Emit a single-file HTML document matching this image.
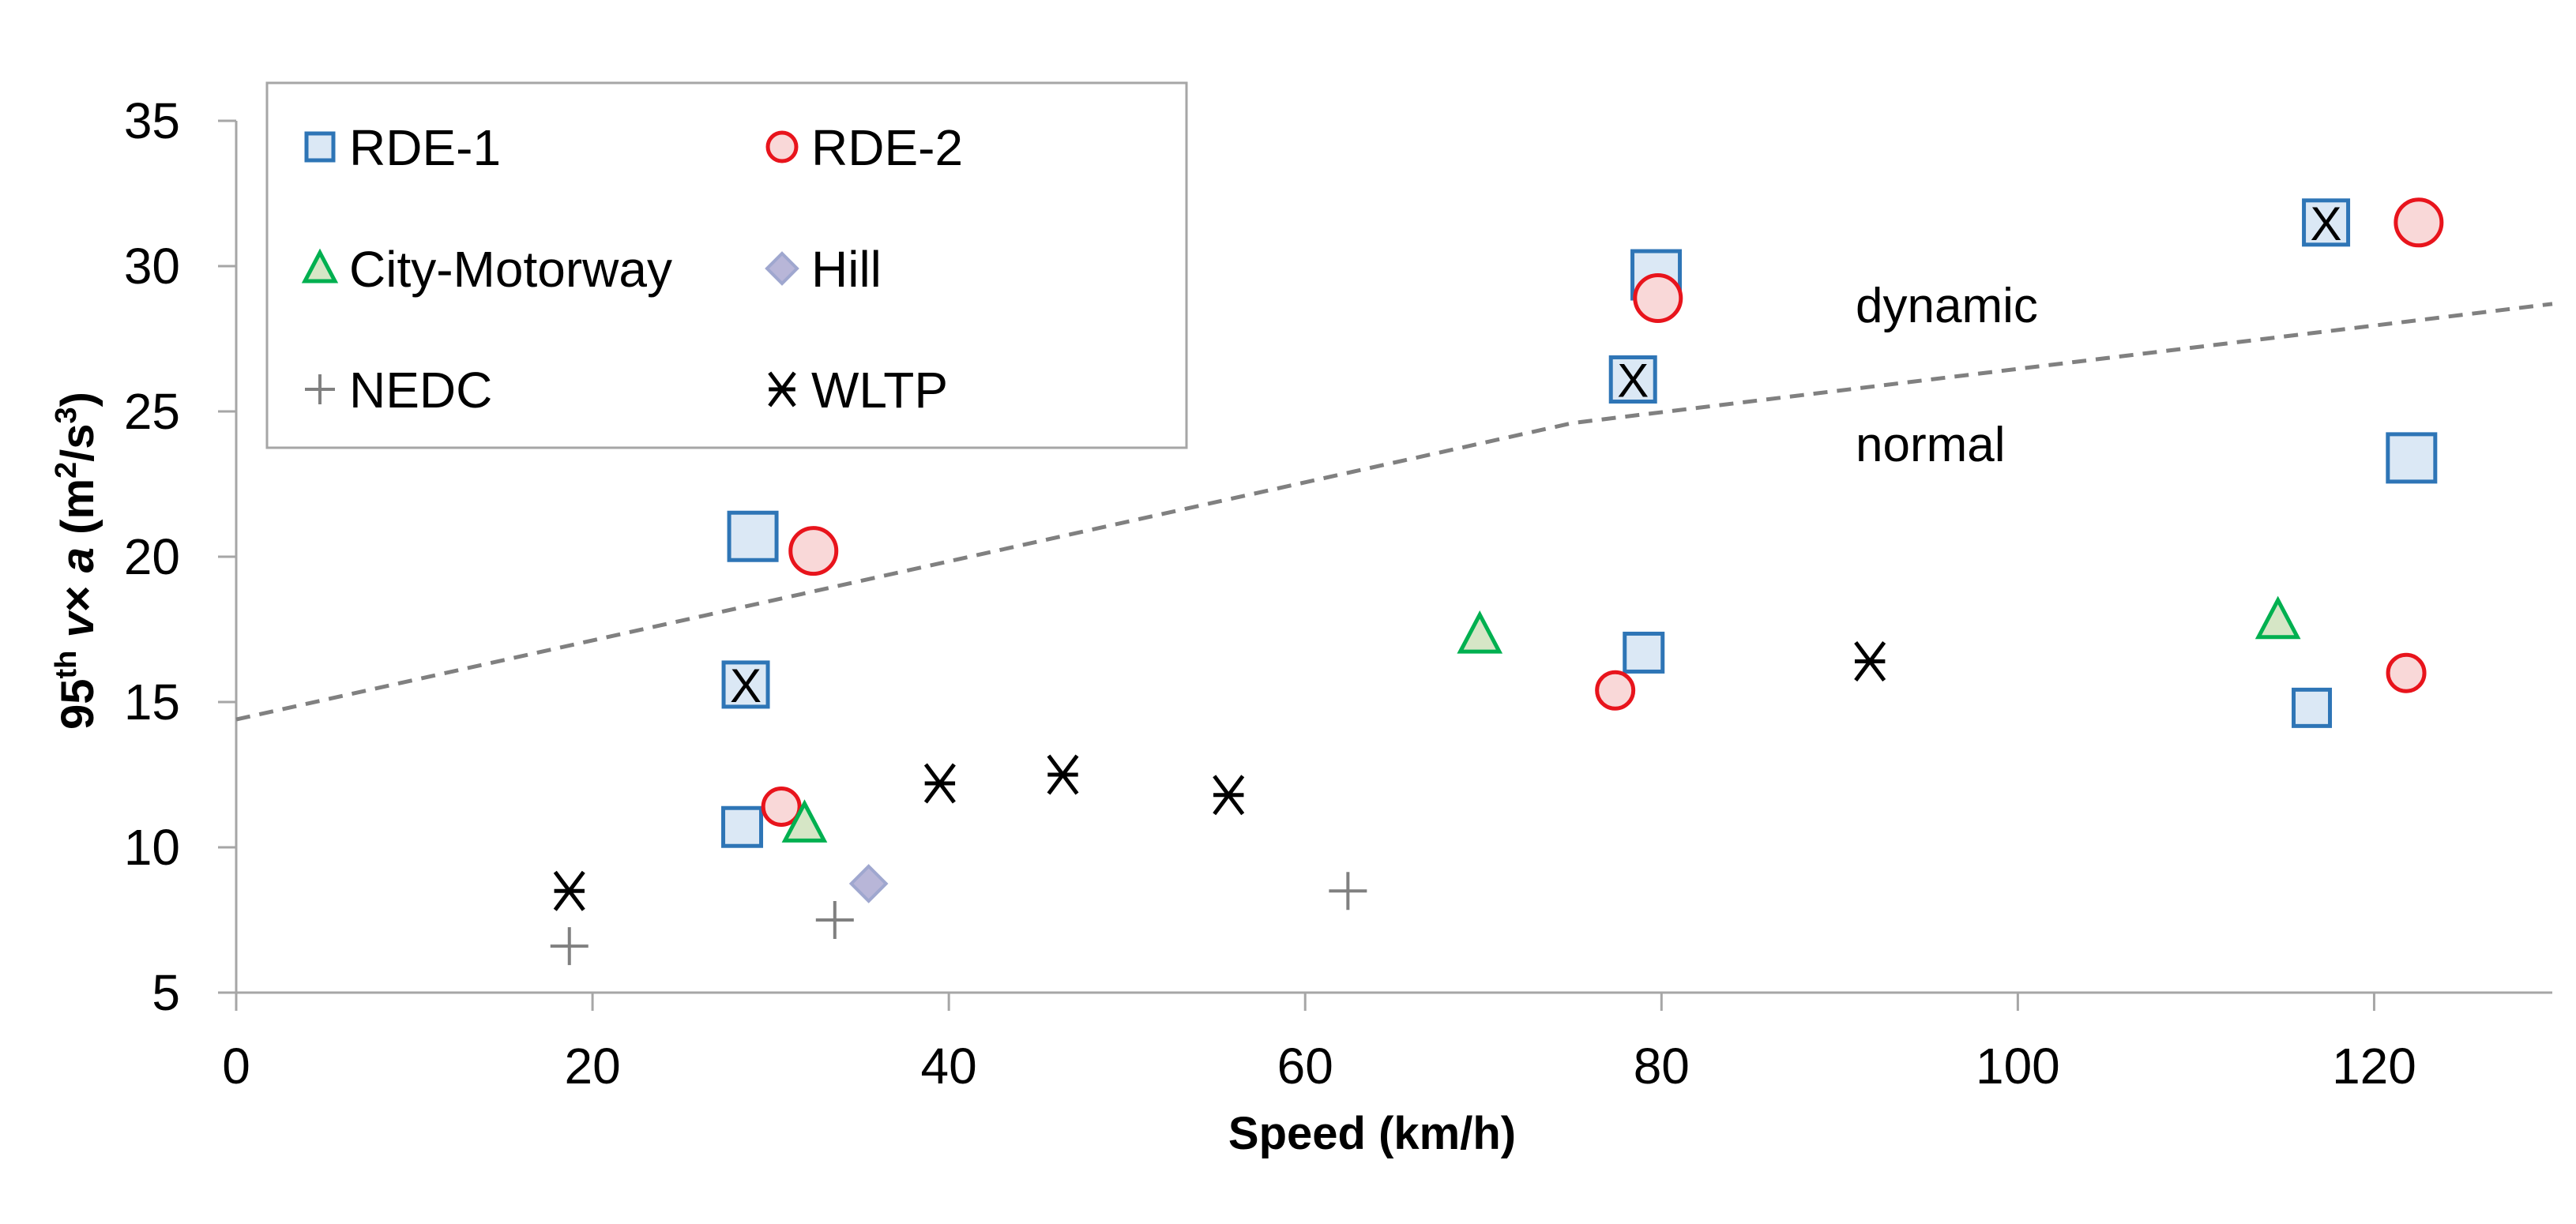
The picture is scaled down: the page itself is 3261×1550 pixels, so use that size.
<!DOCTYPE html>
<html><head><meta charset="utf-8"><style>
html,body{margin:0;padding:0;background:#fff;}
svg{display:block;font-family:"Liberation Sans",sans-serif;}
</style></head><body>
<svg id="chart" width="3261" height="1550" viewBox="0 0 3261 1550" xmlns="http://www.w3.org/2000/svg">
<rect width="3261" height="1550" fill="#fff"/>
<g id="axes"></g>
<g id="marks"></g>
<g id="legend"></g>
</svg>
<script>
const xTicks=[0,20,40,60,80,100,120];
const yTicks=[5,10,15,20,25,30,35];
const thresholdX=[0,75,130];
const thresholdY=[14.4,24.6,28.7];
const rde1X=[29.0,28.6,28.4,79.7,78.4,79.0,117.3,122.1,116.5];
const rde1Y=[20.7,15.6,10.7,29.7,26.1,16.7,31.5,23.4,14.8];
const rde1Size=[30,28,24,30,28,24,28,30,23];
const rde1Marked=[0,1,0,0,1,0,1,0,0];
const rde2X=[32.4,30.6,79.8,77.4,122.5,121.8];
const rde2Y=[20.2,11.4,28.9,15.4,31.5,16.0];
const rde2Size=[29,23,29,23,29,23];
const cityX=[31.9,69.8,114.6];
const cityY=[10.8,17.3,17.8];
const hillX=[35.5];
const hillY=[8.75];
const nedcX=[18.7,33.6,62.4];
const nedcY=[6.6,7.5,8.5];
const wltpX=[18.7,39.5,46.4,55.7,91.7];
const wltpY=[8.5,12.2,12.5,11.8,16.4];

const X0=299,X1=3231,XMAX=130,Y0=1257,Y1=153,YMIN=5,YMAX=35;
const sx=v=>X0+(v/XMAX)*(X1-X0);
const sy=v=>Y0-(v-YMIN)/(YMAX-YMIN)*(Y0-Y1);
const NS="http://www.w3.org/2000/svg";
function mk(tag,attrs,parent,text){const e=document.createElementNS(NS,tag);for(const k in attrs)e.setAttribute(k,attrs[k]);if(text!==undefined)e.textContent=text;parent.appendChild(e);return e;}
const axes=document.getElementById('axes'),marks=document.getElementById('marks'),legend=document.getElementById('legend');

let el=mk('line',{x1:X0,y1:Y1,x2:X0,y2:Y0,stroke:'#a6a6a6','stroke-width':3},axes);


el=mk('line',{x1:X0,y1:Y0,x2:X1,y2:Y0,stroke:'#a6a6a6','stroke-width':3},axes);


yTicks.forEach(t=>{
  mk('line',{x1:X0-23,y1:sy(t),x2:X0,y2:sy(t),stroke:'#a6a6a6','stroke-width':3},axes);
  const tx=mk('text',{x:228,y:sy(t)+22,'text-anchor':'end','font-size':64,fill:'#000'},axes,String(t));
  
  
});
xTicks.forEach(t=>{
  mk('line',{x1:sx(t),y1:Y0,x2:sx(t),y2:Y0+23,stroke:'#a6a6a6','stroke-width':3},axes);
  const tx=mk('text',{x:sx(t),y:1372,'text-anchor':'middle','font-size':64,fill:'#000'},axes,String(t));
  
  
});
el=mk('text',{x:1737,y:1455,'text-anchor':'middle','font-size':58,'font-weight':'bold',fill:'#000'},axes,'Speed (km/h)');


const yt=mk('text',{x:0,y:0,'text-anchor':'middle','font-size':58,'font-weight':'bold',fill:'#000',transform:'translate(118,710) rotate(-90)'},axes);


yt.innerHTML='95<tspan font-size="38" dy="-22">th</tspan><tspan dy="22"> </tspan><tspan font-style="italic">v</tspan>× <tspan font-style="italic">a</tspan> (m<tspan font-size="38" dy="-22">2</tspan><tspan dy="22">/s</tspan><tspan font-size="38" dy="-22">3</tspan><tspan dy="22">)</tspan>';

el=mk('polyline',{points:thresholdX.map((v,i)=>sx(v)+','+sy(thresholdY[i])).join(' '),fill:'none',stroke:'#808080','stroke-width':5,'stroke-dasharray':'18 12'},marks);


el=mk('text',{x:2349,y:408,'font-size':62,fill:'#000'},marks,'dynamic');


el=mk('text',{x:2349,y:584,'font-size':62,fill:'#000'},marks,'normal');



function square(g,cx,cy,h){return mk('rect',{x:cx-h,y:cy-h,width:2*h,height:2*h,fill:'#dbe8f5',stroke:'#2e75b6','stroke-width':5},g);}
function circle(g,cx,cy,r){return mk('circle',{cx:cx,cy:cy,r:r,fill:'#f9d8d8',stroke:'#e8141c','stroke-width':5},g);}
function tri(g,cx,cy,h){return mk('polygon',{points:`${cx},${cy-h} ${cx+h*0.95},${cy+h*0.8} ${cx-h*0.95},${cy+h*0.8}`,fill:'#d6e6c6',stroke:'#00b050','stroke-width':5},g);}
function diamond(g,cx,cy,h){return mk('polygon',{points:`${cx},${cy-h} ${cx+h},${cy} ${cx},${cy+h} ${cx-h},${cy}`,fill:'#b8b6d8',stroke:'#9fa7cf','stroke-width':4},g);}
function plus(g,cx,cy,h){const p=mk('path',{d:`M${cx-h},${cy}H${cx+h}M${cx},${cy-h}V${cy+h}`,stroke:'#808080','stroke-width':4},g);return p;}
function star(g,cx,cy,h){return mk('path',{d:`M${cx-h*0.75},${cy-h}L${cx+h*0.75},${cy+h}M${cx+h*0.75},${cy-h}L${cx-h*0.75},${cy+h}M${cx-h*0.8},${cy}H${cx+h*0.8}`,stroke:'#000','stroke-width':5},g);}

rde1X.forEach((v,i)=>{
  const s=square(marks,sx(v),sy(rde1Y[i]),rde1Size[i]);
  
  
  if(rde1Marked[i]){const t=mk('text',{x:sx(v),y:sy(rde1Y[i])+22,'text-anchor':'middle','font-size':60,fill:'#000'},marks,'X');
    
    }
});
rde2X.forEach((v,i)=>{const c=circle(marks,sx(v),sy(rde2Y[i]),rde2Size[i]);
  
  });
cityX.forEach((v,i)=>{const t=tri(marks,sx(v),sy(cityY[i]),26);
  
  });
hillX.forEach((v,i)=>{const d=diamond(marks,sx(v),sy(hillY[i]),22);
  
  });
nedcX.forEach((v,i)=>{const p=plus(marks,sx(v),sy(nedcY[i]),24);
  
  });
wltpX.forEach((v,i)=>{const p=star(marks,sx(v),sy(wltpY[i]),24);
  
  });

el=mk('rect',{x:338,y:105,width:1164,height:462,fill:'#fff',stroke:'#a6a6a6','stroke-width':3},legend);


const legNames=['RDE-1','RDE-2','City-Motorway','Hill','NEDC','WLTP'];
const legFns=[(g,x,y)=>square(g,x,y,17),(g,x,y)=>circle(g,x,y,18),(g,x,y)=>tri(g,x,y,20),(g,x,y)=>diamond(g,x,y,19),(g,x,y)=>plus(g,x,y,19),(g,x,y)=>star(g,x,y,21)];
const colX=[405,990],rowY=[186,340,493];
legNames.forEach((n,i)=>{
  const cx=colX[i%2],cy=rowY[Math.floor(i/2)];
  const g=mk('g',{},legend);
  
  
  legFns[i](g,cx,cy);
  mk('text',{x:cx+37,y:cy+23,'font-size':64,fill:'#000'},g,n);
});
</script>
</body></html>
